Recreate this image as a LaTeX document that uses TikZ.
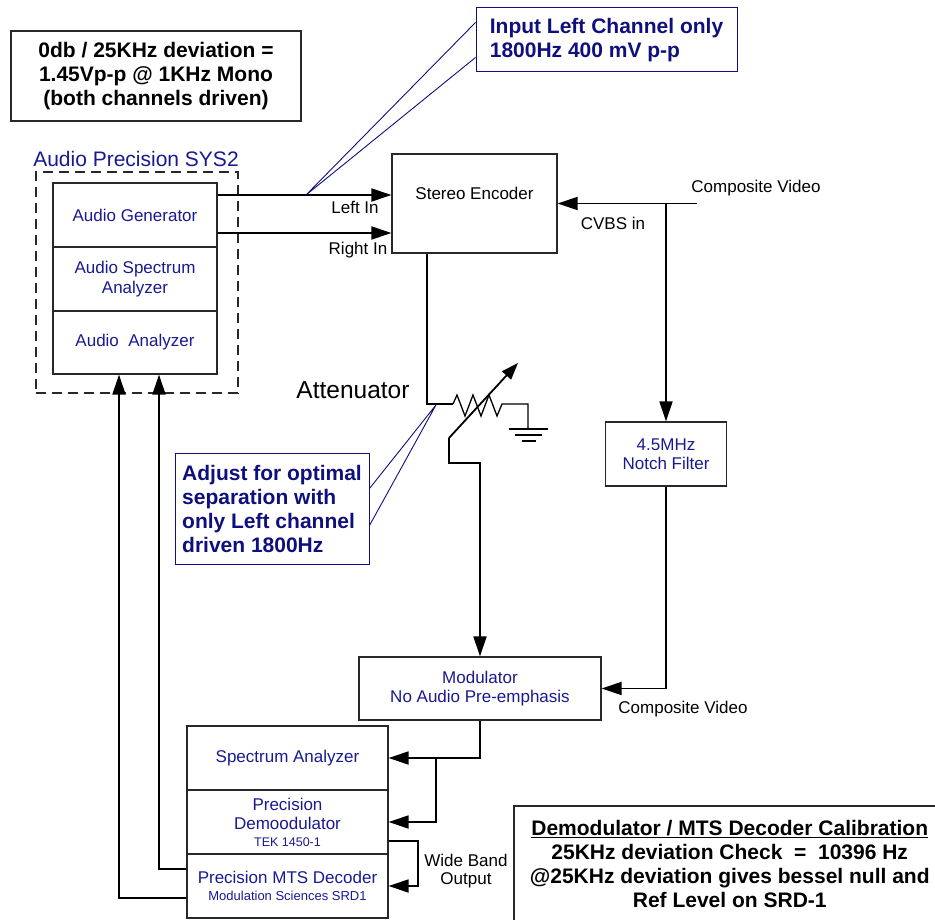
\documentclass[tikz,border=0pt]{standalone}
\usepackage{fontspec}
\setmainfont{Liberation Sans}
\usetikzlibrary{arrows.meta,calc}
\definecolor{navy}{RGB}{25,25,145}
\definecolor{cnavy}{RGB}{15,15,125}
\definecolor{boxgray}{RGB}{40,40,40}
\begin{document}
\begin{tikzpicture}[x=1pt,y=-1pt,
  blk/.style={draw=boxgray, line width=1.2pt, rectangle, inner sep=0pt, align=center, text=navy, font=\fontsize{17}{19.5}\selectfont},
  wire/.style={line width=1.8pt, black},
  arr/.style={wire, -{Triangle[length=20pt,width=13pt]}},
  lbl/.style={font=\fontsize{17}{19.5}\selectfont, text=black, inner sep=0pt},
  boldtxt/.style={font=\fontsize{21}{24}\selectfont\bfseries},
  callout/.style={draw=cnavy, line width=1pt, text=cnavy, boldtxt, align=left, inner sep=0pt},
  ptr/.style={draw=cnavy, line width=0.9pt}
]
\useasboundingbox (0,0) rectangle (935,920);
\clip (0,0) rectangle (935,920);

% note box
\node[draw=boxgray, line width=1.2pt, minimum width=290, minimum height=90, align=center, boldtxt, inner sep=0pt] (note) at (156,76)
  {0db / 25KHz deviation =\\1.45Vp-p @ 1KHz Mono\\(both channels driven)};

% Audio precision
\node[text=navy, font=\fontsize{21}{24}\selectfont, inner sep=0pt] (apt) at (136,159) {Audio Precision SYS2};
\node[draw=boxgray, line width=1.5pt, dash pattern=on 10pt off 6pt, minimum width=202, minimum height=221, inner sep=0pt] (apbox) at (137,282.5) {};
\node[blk, minimum width=164, minimum height=64] (ag) at (135,215) {Audio Generator};
\node[blk, minimum width=164, minimum height=64] (asa) at (135,279) {Audio Spectrum\\Analyzer};
\node[blk, minimum width=164, minimum height=63] (aa) at (135,342.5) {Audio\ \ Analyzer};

% Stereo encoder
\node[blk, minimum width=165, minimum height=99, label={[lbl, yshift=10.5pt]center:Stereo Encoder}] (se) at (474.5,203.5) {};

% Notch filter
\node[blk, minimum width=121, minimum height=64] (nf) at (666,454) {4.5MHz\\Notch Filter};

% Modulator
\node[blk, minimum width=242, minimum height=63] (mod) at (480,688.5) {Modulator\\No Audio Pre-emphasis};

% Bottom stack
\node[blk, minimum width=201, minimum height=64] (sa) at (287.5,758) {Spectrum Analyzer};
\node[blk, minimum width=201, minimum height=64] (pd) at (287.5,822) {Precision\\Demoodulator\\[-3pt]{\fontsize{12.5}{14}\selectfont TEK 1450-1}};
\node[blk, minimum width=201, minimum height=64] (mts) at (287.5,886) {Precision MTS Decoder\\[-3pt]{\fontsize{13}{14}\selectfont Modulation Sciences SRD1}};

% Calibration box
\node[draw=boxgray, line width=1.5pt, anchor=north west, minimum width=432, minimum height=116, align=center, boldtxt, inner sep=0pt] (cal) at (513,805)
  {\underline{Demodulator / MTS Decoder Calibration}\\25KHz deviation Check\ \ =\ \ 10396 Hz\\@25KHz deviation gives bessel null and\\Ref Level on SRD-1};

% Callouts
\node[callout, minimum width=261, minimum height=64] (c1) at (606.5,40) {Input Left Channel only\\1800Hz 400 mV p-p};
\node[callout, minimum width=194, minimum height=111] (c2) at (272,508.5) {Adjust for optimal\\separation with\\only Left channel\\driven 1800Hz};
\coordinate (t1) at (306,195);
\coordinate (t2) at (436,405);
\draw[ptr] ([yshift=-15pt]c1.north west) -- (t1) -- ([yshift=-50pt]c1.north west);
\draw[ptr] ([yshift=-36pt]c2.north east) -- (t2) -- ([yshift=-73pt]c2.north east);

% Audio inputs
\draw[arr] ([yshift=20pt]ag.east) -- ([yshift=20pt]ag.east -| se.west);
\draw[arr] ([yshift=-18pt]ag.east) -- ([yshift=-18pt]ag.east -| se.west);
\node[lbl] (lin) at (355,207) {Left In};
\node[lbl] (rin) at (358,250) {Right In};

% CVBS
\coordinate (cvin) at (697,203.5);
\coordinate (jn) at (666,203.5);
\draw[arr] (cvin) -- (se.east);
\draw[arr] (jn) -- (nf.north);
\draw[arr] (nf.south) |- (mod.east);
\node[lbl] (cvtop) at (756,188) {Composite Video};
\node[lbl] (cvbs) at (613,223) {CVBS in};
\node[lbl] (cvbot) at (683,709) {Composite Video};

% Attenuator
\node[font=\fontsize{24.5}{28}\selectfont, inner sep=0pt] (att) at (353,390) {Attenuator};
\coordinate (r0) at (453,404);
\coordinate (r1) at (502,404);
\coordinate (gnd) at (528,429);
\coordinate (w0) at (449,438);
\coordinate (wtip) at (518,363);
\draw[wire] ([xshift=-47.5pt]se.south) |- (r0);
\draw[line width=1.3pt] (r0) -- (457,395) -- (465,416) -- (473,395) -- (481,416) -- (489,395) -- (497,416) -- (r1) -| (gnd);
\draw[line width=1.5pt] (509,429) -- (548,429);
\draw[line width=1.5pt] (515,435) -- (542,435);
\draw[line width=1.5pt] (522,441) -- (536,441);
\draw[wire, -{Triangle[length=17pt,width=12pt]}] (w0) -- (wtip);
\draw[arr] (w0) -- (449,463) -| (mod.north);

% Modulator to analyzers
\coordinate (jb) at (436,758);
\draw[wire] (mod.south) |- (jb);
\draw[arr] (jb) -- (sa.east);
\draw[arr] (jb) |- (pd.east);
\draw[arr] ([yshift=-19pt]pd.east) -- ++(29,0) |- (mts.east);
\node[lbl, align=center, font=\fontsize{17}{18.5}\selectfont] (wbo) at (466,871) {Wide Band\\Output};

% Feedback to audio analyzer
\draw[arr] ([yshift=-12pt]mts.west) -| ([xshift=-16pt]aa.south);
\draw[arr] ([yshift=17pt]mts.west) -| ([xshift=24pt]aa.south);
\end{tikzpicture}
\end{document}
